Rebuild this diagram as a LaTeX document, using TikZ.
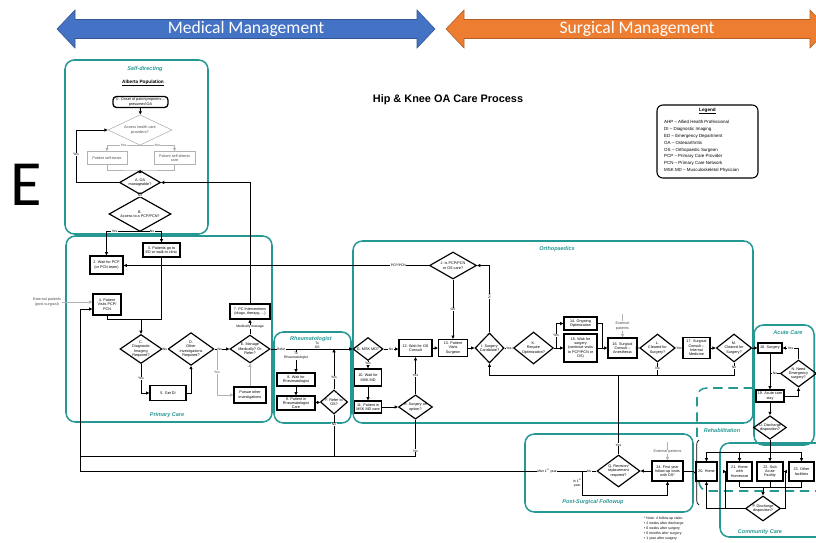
\documentclass[tikz,border=0pt]{standalone}
\usepackage{fontspec}
\setmainfont{Liberation Sans}
\newfontfamily\bandfont{Carlito}
\usetikzlibrary{shapes.geometric,arrows.meta,decorations.pathreplacing}

\definecolor{ahsteal}{RGB}{38,152,148}
\definecolor{medblue}{RGB}{68,114,196}
\definecolor{surgorange}{RGB}{237,125,49}

\newcommand\flowfont{\fontsize{3.2}{3.7}\selectfont}
\newcommand\ZoneBox[5]{% name, corner, corner, title position, title
  \draw[zone] #2 rectangle #3;
  \node[zonetitle] (#1) at #4 {#5};
}
\newcommand\BandArrow[5]{% name, left tip, right tip, colour, text
  \filldraw[fill=#4, draw=#4!75!black, line width=0.5pt]
    (#2,29) -- (#2+18,10) -- (#2+18,19.5) -- (#3-18,19.5) -- (#3-18,10) -- (#3,29)
    -- (#3-18,48) -- (#3-18,38.5) -- (#2+18,38.5) -- (#2+18,48) -- cycle;
  \node[band] (#1) at ({(#2+#3)/2},29) {#5};
}

\begin{document}
\begin{tikzpicture}[x=0.03cm, y=-0.03cm,
  flow/.style={font=\flowfont, align=center, inner sep=0.4pt},
  wh/.style 2 args={minimum width=#1*0.03cm, minimum height=#2*0.03cm},
  pbox/.style={flow, draw, line width=1pt},
  term/.style={pbox, rounded corners=3pt, line width=1.1pt},
  dec/.style={flow, diamond, draw, line width=1pt, inner sep=0pt, aspect=1.4},
  faded/.style={draw=gray!60, text=gray!60!black, line width=0.5pt},
  wire/.style={line width=0.75pt},
  arr/.style={wire, -{Triangle[length=2.8pt,width=2.6pt]}},
  lbl/.style={font=\fontsize{2.9}{3.3}\selectfont, fill=white, inner sep=0.3pt, align=center},
  zone/.style={draw=ahsteal, line width=1.3pt, rounded corners=8pt},
  zonetitle/.style={font=\fontsize{4.7}{5}\selectfont\bfseries\itshape, text=ahsteal},
  band/.style={font=\bandfont\fontsize{15}{15}\selectfont, text=white}]
\useasboundingbox (0,0) rectangle (816,543);
\clip (0,0) rectangle (816,543);

% management bands
\BandArrow{medical}{57}{435}{medblue}{Medical Management}
\BandArrow{surgical}{446}{828}{surgorange}{Surgical Management}
\node[font=\bandfont\fontsize{55}{55}\selectfont] (bigE) at (26,185) {E};
\node[font=\fontsize{9.3}{10}\selectfont\bfseries] (title) at (448,100) {Hip \& Knee OA Care Process};

% legend
\draw[line width=0.9pt, rounded corners=5pt] (657,105) rectangle (758,178);
\node[font=\fontsize{4}{4}\selectfont\bfseries] (legendT) at (707.5,111) {\underline{Legend}};
\node[anchor=north west, font=\fontsize{3.8}{5.9}\selectfont, align=left] (legendL) at (660,116)
  {AHP – Allied Health Professional\\DI – Diagnostic Imaging\\ED – Emergency Department\\
   OA – Osteoarthritis\\OS – Orthopaedic Surgeon\\PCP – Primary Care Provider\\
   PCN – Primary Care Network\\MSK MD – Musculoskeletal Physician};

% zones
\ZoneBox{tSelf}{(65,60)}{(208,234)}{(145,69)}{Self-directing}
\ZoneBox{tPrim}{(66,236)}{(272,422)}{(167,415)}{Primary Care}
\ZoneBox{tRheum}{(274,332)}{(351,423)}{(311,339)}{Rheumatologist}
\ZoneBox{tOrtho}{(353,241)}{(753,423)}{(557,249)}{Orthopaedics}
\ZoneBox{tAcute}{(754,325)}{(814,445)}{(788,333)}{Acute Care}
\ZoneBox{tPost}{(525,434)}{(693,512)}{(593,502)}{Post-Surgical Followup}
\ZoneBox{tComm}{(720,443)}{(840,537)}{(760,532)}{Community Care}
\draw[zone, dashed, dash pattern=on 8pt off 5pt] (753,388) -- (697,388) -- (697,440);
\draw[zone, dashed, dash pattern=on 8pt off 5pt] (699,482) -- (699,491) -- (816,491);
\node[zonetitle] (tRehab) at (722,431) {Rehabilitation};

% self-directing
\node[font=\fontsize{4}{4.5}\selectfont\bfseries] (alberta) at (143,83) {\underline{Alberta Population}};
\node[term, wh={55}{11}] (n0) at (140.5,102) {0. Onset of pain/symptoms –\\presumed OA};
\node[dec, faded, wh={64}{25}] (dAccess) at (140,130) {Access health care\\providers?};
\node[pbox, faded, wh={40}{13}] (nSelfT) at (107,158) {Patient self-treats};
\node[pbox, faded, wh={41}{13}] (nSelfD) at (174.5,158) {Patient self-directs\\care};
\node[dec, wh={41}{19}] (dA) at (140,182.5) {A. OA\\manageable?};
\node[dec, wh={62}{24}] (dB) at (140,214) {B.\\Access to a PCP/PCN?};
\coordinate (sAccess) at (140,145);
\coordinate (jSelf) at (140,170);
\coordinate (cYes) at (76,182.5);
\coordinate (jB) at (140,231);

% primary care
\node[pbox, wh={33}{18}] (n2) at (106.5,265) {2. Wait for PCP\\(or PCN team)};
\node[pbox, wh={37}{14}] (n3) at (161.5,250) {3. Patients go to\\ED or walk-in clinic};
\node[pbox, wh={28}{21}] (n4) at (107,304.5) {4. Patient\\Visits PCP/\\PCN};
\node[flow, text=gray!60!black] (ext1) at (47,302) {External patients\\(post-surgical)};
\node[dec, wh={42}{29}] (dC) at (141,349) {C.\\Diagnostic\\Imaging\\Required?};
\node[dec, wh={42}{29}] (dD) at (191,349) {D.\\Other\\Investigations\\Required?};
\node[dec, wh={40}{27}] (dE) at (250,349) {E. Manage\\Medically? Or\\Refer?};
\node[pbox, wh={36}{15}] (n5) at (168,393) {5. Get DI};
\node[pbox, wh={32}{16}] (nPursue) at (250,395) {Pursue other\\investigations};
\node[pbox, wh={40}{15}] (n7) at (250,311.5) {7. PC Interventions\\(drugs, therapy, ...)};
\coordinate (jC) at (141,319);
\coordinate (j3) at (161.5,319);
\coordinate (jD) at (217,349);
\coordinate (cIn4) at (80,309);
\coordinate (cLow) at (80,456);
\coordinate (cLowB) at (80,471);

% rheumatologist
\node[pbox, wh={38}{13}] (n8) at (296,379.5) {8. Wait for\\Rheumatologist};
\node[pbox, wh={38}{14}] (n9) at (296,403) {9. Patient in\\Rheumatologist\\Care};
\node[dec, wh={25}{24}] (dF) at (334,402) {F. Refer to\\OS?};
\coordinate (jR) at (296,349);

% orthopaedics
\node[dec, wh={47}{27}] (dJ) at (453,265.5) {J. Is PCP/PCN\\or OS care?};
\node[dec, wh={30}{23}] (dG) at (368,349) {G. MSK MD?};
\node[pbox, wh={33}{17}] (n12) at (415.5,348) {12. Wait for OS\\Consult};
\node[pbox, wh={29}{17}] (n13) at (453,348) {13. Patient\\Visits\\Surgeon};
\node[pbox, wh={27}{17}] (n10) at (368,377.5) {10. Wait for\\MSK MD};
\node[pbox, wh={27}{12}] (n11) at (368,407) {11. Patient in\\MSK MD care};
\node[dec, wh={33}{24}] (dH) at (415.5,407) {H. Surgery an\\option?};
\node[dec, wh={29}{30}] (dI) at (489.5,348) {I. Surgery\\Candidate?};
\node[dec, wh={33}{32}] (dK) at (533.5,348) {K.\\Require\\Optimization?};
\node[pbox, wh={33}{13}] (n14) at (580.5,323.5) {14. Ongoing\\Optimization};
\node[pbox, wh={33}{28}] (n15) at (580.5,348) {15. Wait for\\surgery\\(continue visits\\to PCP/PCN or\\OS)};
\node[pbox, wh={29}{20}] (n16) at (622.5,348) {16. Surgical\\Consult –\\Anesthesia};
\node[flow, text=gray!60!black] (ext2) at (622.5,326) {External\\patients};
\node[dec, wh={31}{28}] (dL) at (657.5,348) {L.\\Cleared for\\Surgery?};
\node[pbox, wh={27}{21}] (n17) at (696.5,348) {17. Surgical\\Consult –\\Internal\\Medicine};
\node[dec, wh={32}{28}] (dM) at (734,348) {M.\\Cleared for\\Surgery?};
\coordinate (jK) at (556,348);
\coordinate (jOpt) at (602,348);
\coordinate (cExt2) at (622.5,314);
\coordinate (cLoopR) at (734,375);

% acute care
\node[pbox, wh={24}{10}] (n18) at (770,348) {18. Surgery};
\node[dec, wh={27}{27}] (dN) at (798.5,373.5) {N. Need\\Emergency\\surgery?};
\node[pbox, wh={28}{12}] (n19) at (770,396) {19. Acute care\\stay};
\node[dec, wh={26}{21}] (dO) at (770,427.5) {O. Discharge\\disposition?};
\coordinate (cDist) at (770,452);

% discharge destinations
\node[pbox, wh={21}{19}] (n20) at (706.5,471.5) {20. Home};
\node[pbox, wh={25}{19}] (n21) at (739.5,471.5) {21. Home\\with\\Homecare};
\node[pbox, wh={26}{19}] (n22) at (770,471.5) {22. Sub\\Acute\\Facility};
\node[pbox, wh={25}{19}] (n23) at (801.5,471.5) {23. Other\\facilities};
\node[dec, wh={35}{25}] (dP) at (763,508.5) {P. Discharge\\disposition?};
\coordinate (cCollect) at (763,487);
\coordinate (cP21) at (725,508.5);
\coordinate (cP22) at (785,508.5);

% post-surgical followup
\node[dec, wh={43}{32}] (dQ) at (618.5,471) {Q. Revision/\\replacement\\required?};
\node[pbox, wh={31}{20}] (n24) at (667.5,471) {24. First year\\follow-up visits\\with OS*};
\node[flow, text=gray!60!black] (ext3) at (667.5,452) {External patients};
\coordinate (cExt3) at (667.5,442);
\coordinate (cQ) at (582,471);
\coordinate (cQlow) at (582,495);
\coordinate (cBrace) at (694,471);
\node[anchor=north west, font=\fontsize{3}{4.4}\selectfont, align=left] (note) at (640,512.5)
  {* Note: 4 follow-up visits:\\• 2 weeks after discharge\\• 6 weeks after surgery\\
   • 6 months after surgery\\• 1 year after surgery};

% connectors: self-directing
\draw[arr] (n0) -- (dAccess);
\draw[wire, faded] (dAccess.south) -- (sAccess);
\draw[arr, faded] (sAccess) -| node[lbl, text=gray!60!black, pos=0.25]{Yes} (nSelfT.north);
\draw[arr, faded] (sAccess) -| node[lbl, text=gray!60!black, pos=0.25]{Yes} (nSelfD.north);
\draw[wire, faded] (nSelfT.south) |- (jSelf) -| (nSelfD.south);
\draw[arr] (jSelf) -- (dA);
\draw[arr] (dA.west) -- (cYes) |- node[lbl, pos=0.27]{Yes} (dAccess.west);
\draw[arr] (dA.south) -- node[lbl]{No} (dB.north);
\draw[wire] (dB.south) -- (jB);
\draw[arr] (jB) -| node[lbl, pos=0.38]{Yes} (n2.north);
\draw[arr] (jB) -| node[lbl, pos=0.28]{No} (n3.north);

% connectors: primary care
\draw[arr, faded] (ext1.east) -- (n4.west |- ext1.east);
\draw[wire] (n4.south) |- (j3);
\draw[wire] (n3.south) -- (j3);
\draw[arr] (jC) -- (dC.north);
\draw[arr] (dC.east) -- node[lbl]{No} (dD.west);
\draw[arr] (dC.south) |- node[lbl, pos=0.25]{Yes} (n5.west);
\draw[arr] (n5.east) -| (dD.south);
\draw[arr] (dD.east) -- node[lbl, pos=0.35]{No} (dE.west);
\draw[arr, faded] (jD) |- node[lbl, text=gray!60!black, pos=0.25]{Yes} (nPursue.west);
\draw[arr, faded] (nPursue.north) -- (dE.south);
\draw[arr] (dE.north) -- node[lbl]{Medically manage} (n7.south);
\draw[arr] (n7.north) |- (dA.east);

% connectors: rheumatologist
\draw[arr] (dE.east) -- node[lbl, pos=0.13]{Refer} node[lbl, above, pos=0.57]{To\\OS} (dG.west);
\draw[arr] (jR) -- node[lbl, pos=0.3]{To\\Rheumatologist} (n8.north);
\draw[arr] (n8) -- (n9);
\draw[arr] (n9) -- (dF);
\draw[arr] (dF.north) -- node[lbl, pos=0.3]{Yes} (dF.north |- dE.east);
\draw[wire] (dF.south) -- node[lbl, pos=0.24]{No} (dF.south |- cLow);
\draw[wire] (dH.south |- cLow) -- (cLow);

% connectors: orthopaedics
\draw[arr] (dJ.west) -- node[lbl, pos=0.1]{PCP/PCN} (n2.east |- dJ.west);
\draw[arr] (dJ.south) -- node[lbl]{OS} (n13.north);
\draw[arr] (dG.east) -- node[lbl]{No} (n12.west |- dG.east);
\draw[arr] (n12) -- (n13);
\draw[arr] (dG.south) -- node[lbl, pos=0.3]{Yes} (n10.north);
\draw[arr] (n10) -- (n11);
\draw[arr] (n11) -- (dH);
\draw[arr] (dH.north) -- node[lbl]{Yes} (n12.south);
\draw[wire] (dH.south) -- node[lbl, pos=0.86]{No} (dH.south |- cLow);
\draw[arr] (n13) -- (dI);
\draw[arr] (dI.north) |- node[lbl, pos=0.27, rotate=90]{No} (dJ.east);
\draw[arr] (dI.east) -- node[lbl]{Yes} (dK.west);
\draw[arr] (dK.east) -- (n15.west);
\draw[arr] (jK) |- node[lbl, pos=0.25]{Yes} (n14.west);
\draw[wire] (n14.east) -| (jOpt);
\draw[arr] (n15) -- (n16);
\draw[wire, faded] (cExt2) -- (ext2.north);
\draw[arr, faded] (ext2.south) -- (n16.north);
\draw[arr] (n16) -- (dL);
\draw[arr] (dL) -- node[lbl]{Yes} (n17);
\draw[arr] (n17) -- (dM);
\draw[arr] (dM) -- (n18);
\draw[wire] (dL.south) -- node[lbl]{No} (dL.south |- cLoopR);
\draw[arr] (dM.south) -- node[lbl, pos=0.4]{No} (cLoopR) -| (dI.south);
\draw[wire] (dQ.north) -- node[lbl, pos=0.12]{Yes} (dQ.north |- cLoopR);

% connectors: acute care and discharge
\draw[arr] (dN.north) |- node[lbl, pos=0.75]{Yes} (n18.east);
\draw[arr] (n18) -- (n19);
\draw[wire] (dN.west) -- node[lbl]{No} (dN.west -| n18.south);
\draw[arr] (n19.east) -| (dN.south);
\draw[arr] (n19) -- (dO);
\draw[wire] (dO.south) -- (cDist);
\draw[wire] (n20.north |- cDist) -- (n23.north |- cDist);
\foreach \b in {n20,n21,n22,n23} { \draw[arr] (\b.north |- cDist) -- (\b.north); }
\foreach \b in {n21,n22,n23} { \draw[wire] (\b.south) -- (\b.south |- cCollect); }
\draw[wire] (n21.south |- cCollect) -- (n23.south |- cCollect);
\draw[arr] (cCollect) -- (dP.north);
\draw[arr] (dP.west) -| (n20.south);
\draw[arr] (cP21) |- (n21.west);
\draw[arr] (dP.east) -- (cP22) |- (n22.east);

% connectors: post-surgical followup
\draw[decorate, decoration={brace, amplitude=4pt}, line width=0.6pt] (699,505) -- (699,440);
\draw[wire] (n24.east) -- (cBrace);
\draw[wire, faded] (cExt3) -- (ext3.north);
\draw[arr, faded] (ext3.south) -- (n24.north);
\draw[arr] (n24) -- (dQ);
\draw[wire] (dQ.west) -- node[lbl]{No} (cQ);
\draw[arr] (cQ) -- node[lbl, left, fill=none]{In 1\textsuperscript{st}\\year} (cQlow) -| (n24.south);
\draw[arr] (cQ) -- node[lbl, pos=0.07]{After 1\textsuperscript{st} year} (cLowB) -- (cIn4) -- (n4.west |- cIn4);
\end{tikzpicture}
\end{document}
